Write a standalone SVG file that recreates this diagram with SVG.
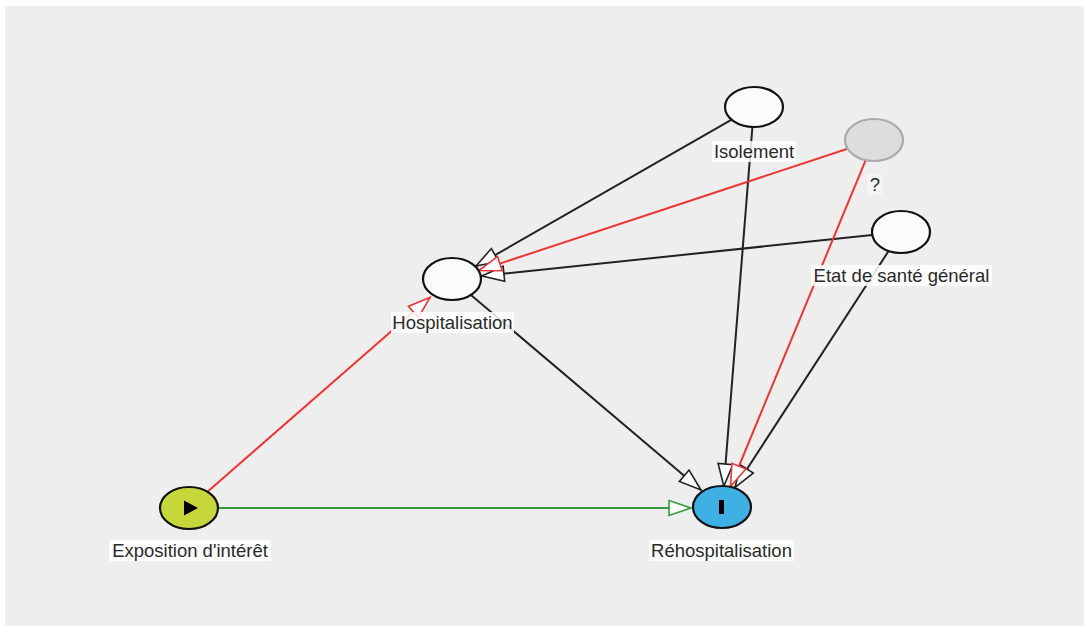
<svg xmlns="http://www.w3.org/2000/svg" width="1084" height="626" viewBox="0 0 1084 626">
<style>
.edge{fill:none;stroke-width:2}
.blk{stroke:#222}
.red{stroke:#ee3535}
.grn{stroke:#349a3a}
.node{stroke:#111;stroke-width:2.2}
.lbg{fill:#ffffff;fill-opacity:0.85}
.lbl{font-family:"Liberation Sans",Arial,sans-serif;font-size:18.5px;fill:#2a2a2a;text-anchor:middle}
</style>
<defs>
<marker id="aB" markerUnits="userSpaceOnUse" markerWidth="28" markerHeight="20" refX="24" refY="9" orient="auto">
<path d="M2,1.5 L24,9 L2,16.5 z" fill="#fff" stroke="#222" stroke-width="1.6"/>
</marker>
<marker id="aR" markerUnits="userSpaceOnUse" markerWidth="28" markerHeight="20" refX="24" refY="9" orient="auto">
<path d="M2,1.5 L24,9 L2,16.5 z" fill="#fff" stroke="#ee3535" stroke-width="1.6"/>
</marker>
<marker id="aG" markerUnits="userSpaceOnUse" markerWidth="28" markerHeight="20" refX="24" refY="9" orient="auto">
<path d="M2,1.5 L24,9 L2,16.5 z" fill="#fff" stroke="#349a3a" stroke-width="1.6"/>
</marker>
</defs>
<rect x="5" y="6" width="1079" height="620" fill="#eeeeee"/>
<g id="connectors">
<line class="edge blk" x1="731.7" y1="119.7" x2="476" y2="266" marker-end="url(#aB)"/>
<line class="edge blk" x1="872.3" y1="235" x2="482" y2="276" marker-end="url(#aB)"/>
<line class="edge blk" x1="470.9" y1="294.9" x2="701" y2="490" marker-end="url(#aB)"/>
<line class="edge blk" x1="752.4" y1="127" x2="723.8" y2="486" marker-end="url(#aB)"/>
<line class="edge blk" x1="888.6" y1="251" x2="735" y2="487.5" marker-end="url(#aB)"/>
<line class="edge red" x1="847.6" y1="148.7" x2="479" y2="270.5" marker-end="url(#aR)"/>
<line class="edge red" x1="865.7" y1="160.1" x2="730.5" y2="486.5" marker-end="url(#aR)"/>
<line class="edge red" x1="207.5" y1="491.8" x2="430" y2="297.5" marker-end="url(#aR)"/>
<line class="edge grn" x1="218" y1="508" x2="691" y2="508" marker-end="url(#aG)"/>
</g>
<g id="node-isolement">
<ellipse class="node" cx="754" cy="107" rx="29" ry="20" style="fill:#fbfbfb"/>
<rect class="lbg" x="712" y="141" width="84" height="21"/>
<text class="lbl" x="754" y="158">Isolement</text>
</g>
<g id="node-unknown">
<ellipse cx="874" cy="140" rx="29" ry="21" style="fill:#dddddd;stroke:#aaaaaa;stroke-width:2.2"/>
<rect class="lbg" x="867" y="174" width="15" height="21" style="fill-opacity:0.4"/>
<text class="lbl" x="875" y="191">?</text>
</g>
<g id="node-etat">
<ellipse class="node" cx="901" cy="232" rx="29" ry="21" style="fill:#fbfbfb"/>
<rect class="lbg" x="811" y="265" width="181" height="21"/>
<text class="lbl" x="901.5" y="282">Etat de santé général</text>
</g>
<g id="node-hospitalisation">
<ellipse class="node" cx="452" cy="279" rx="29" ry="21" style="fill:#fbfbfb"/>
<rect class="lbg" x="391" y="312" width="123" height="21"/>
<text class="lbl" x="452.5" y="329">Hospitalisation</text>
</g>
<g id="node-exposition">
<ellipse class="node" cx="189" cy="508" rx="29" ry="21" style="fill:#c6d73c"/>
<path d="M184,500.5 L198,508 L184,515.5 z" fill="#000"/>
<rect class="lbg" x="109" y="540" width="162" height="21"/>
<text class="lbl" x="190" y="557">Exposition d'intérêt</text>
</g>
<g id="node-rehospitalisation">
<ellipse class="node" cx="722" cy="507" rx="29" ry="21" style="fill:#3fb0e3"/>
<rect x="719" y="500" width="5" height="14" fill="#000"/>
<rect class="lbg" x="649" y="540" width="145" height="21"/>
<text class="lbl" x="721.5" y="557">Réhospitalisation</text>
</g>
</svg>
